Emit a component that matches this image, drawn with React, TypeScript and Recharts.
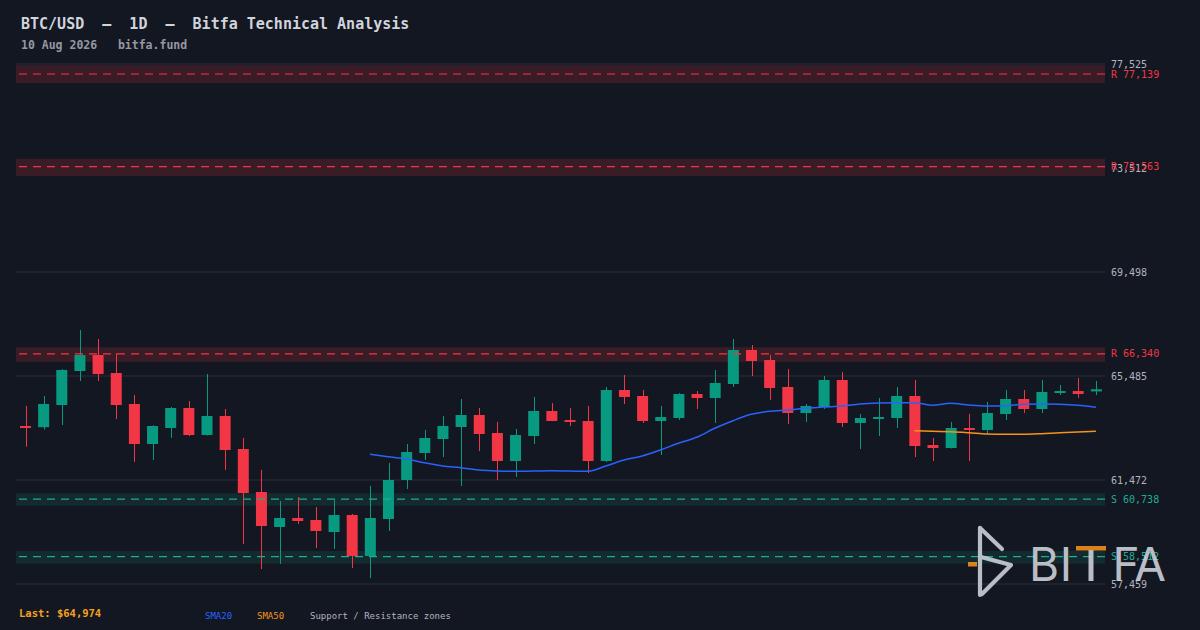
import { ComposedChart, Bar, Line, XAxis, YAxis, CartesianGrid, ReferenceArea, ReferenceLine } from 'recharts'

const days = [
  '12 Jun', '13 Jun', '14 Jun', '15 Jun', '16 Jun', '17 Jun', '18 Jun', '19 Jun', '20 Jun', '21 Jun',
  '22 Jun', '23 Jun', '24 Jun', '25 Jun', '26 Jun', '27 Jun', '28 Jun', '29 Jun', '30 Jun', '01 Jul',
  '02 Jul', '03 Jul', '04 Jul', '05 Jul', '06 Jul', '07 Jul', '08 Jul', '09 Jul', '10 Jul', '11 Jul',
  '12 Jul', '13 Jul', '14 Jul', '15 Jul', '16 Jul', '17 Jul', '18 Jul', '19 Jul', '20 Jul', '21 Jul',
  '22 Jul', '23 Jul', '24 Jul', '25 Jul', '26 Jul', '27 Jul', '28 Jul', '29 Jul', '30 Jul', '31 Jul',
  '01 Aug', '02 Aug', '03 Aug', '04 Aug', '05 Aug', '06 Aug', '07 Aug', '08 Aug', '09 Aug', '10 Aug',
]

const opens = [
  63556, 63510, 64366, 65678, 66295, 65601, 64405, 62861, 63479, 64250,
  63208, 63942, 62668, 61009, 59658, 60006, 59929, 59465, 60121, 58539,
  59967, 61472, 62514, 63054, 63517, 63980, 63286, 62205, 63170, 64135,
  63787, 63749, 62205, 64945, 64714, 63749, 63865, 64791, 64636, 65176,
  66488, 66103, 65061, 64057, 64289, 65331, 63672, 63826, 63865, 64714,
  62823, 62707, 63479, 63401, 64019, 64598, 64212, 64829, 64906, 64890,
]
const highs = [
  64327, 64713, 65755, 67260, 66913, 66361, 64752, 63580, 64289, 64520,
  65562, 64212, 63093, 61858, 60662, 60816, 60430, 60700, 60160, 61241,
  62128, 62861, 63401, 63942, 64598, 64250, 63710, 63440, 64675, 64443,
  64250, 64327, 65061, 65524, 64945, 64327, 64829, 64906, 65717, 66913,
  66681, 66296, 65755, 64405, 65485, 65640, 64019, 64636, 65061, 65331,
  63093, 63710, 64019, 64482, 64945, 64945, 65331, 65138, 65408, 65292,
]
const lows = [
  62757, 63413, 63594, 65292, 65292, 63826, 62167, 62244, 63093, 63170,
  63190, 61858, 59002, 58037, 58230, 59774, 58848, 58809, 58076, 57690,
  59504, 61125, 62244, 62359, 61241, 62591, 61472, 61588, 62861, 63740,
  63556, 61742, 62167, 64405, 63672, 62437, 63787, 64212, 63672, 65061,
  65485, 64559, 63633, 63710, 64212, 63517, 62668, 63170, 63479, 62359,
  62205, 62690, 62205, 63247, 63787, 64057, 64057, 64752, 64636, 64752,
]
const closes = [
  63498, 64405, 65717, 66295, 65562, 64366, 62861, 63556, 64250, 63208,
  63942, 62630, 60970, 59697, 60006, 59890, 59504, 60121, 58539, 60006,
  61472, 62552, 63093, 63556, 63980, 63247, 62205, 63208, 64135, 63749,
  63710, 62205, 64945, 64675, 63749, 63903, 64791, 64636, 65215, 66488,
  66064, 65022, 64057, 64327, 65331, 63672, 63865, 63903, 64714, 62784,
  62707, 63479, 63401, 64057, 64598, 64212, 64868, 64906, 64791, 64974,
]

// moving averages (first values not drawn)
const sma20 = [
  null, null, null, null, null, null, null, null, null, null,
  null, null, null, null, null, null, null, null, null, 62464,
  62371, 62282, 62140, 62012, 61947, 61858, 61819, 61808, 61819, 61830,
  61819, 61808, 62012, 62244, 62398, 62630, 62888, 63120, 63467, 63760,
  64007, 64123, 64173, 64239, 64289, 64327, 64405, 64443, 64455, 64455,
  64354, 64432, 64366, 64327, 64339, 64393, 64405, 64393, 64354, 64277,
]
const sma50 = [
  null, null, null, null, null, null, null, null, null, null,
  null, null, null, null, null, null, null, null, null, null,
  null, null, null, null, null, null, null, null, null, null,
  null, null, null, null, null, null, null, null, null, null,
  null, null, null, null, null, null, null, null, null, 63374,
  63351, 63336, 63297, 63247, 63235, 63235, 63259, 63297, 63324, 63351,
]

const priceTicks = [57459, 61472, 65485, 69498, 73512, 77525]

const resistLevels = [77139, 73563, 66340]
const resistLow = [76790, 73200, 66040]
const resistHigh = [77475, 73870, 66590]
const supportLevels = [60738, 58512]
const supportLow = [60480, 58240]
const supportHigh = [60960, 58730]

const BG = '#131722'
const GREEN = '#089981'
const RED = '#f23645'
const TEAL = '#22ab94'
const MONO = "'DejaVu Sans Mono', monospace"

const data = days.map((day, i) => ({
  day,
  open: opens[i],
  high: highs[i],
  low: lows[i],
  close: closes[i],
  sma20: sma20[i],
  sma50: sma50[i],
}))

const fmt = (v: number) => v.toLocaleString('en-US')

function Candle(props: any) {
  const { x, y, width, height, payload } = props
  if (!payload || height == null) return null
  const { open, close, high, low } = payload
  const k = height / (high - low)
  const yOf = (p: number) => y + (high - p) * k
  const color = close >= open ? GREEN : RED
  const top = yOf(Math.max(open, close))
  const bot = yOf(Math.min(open, close))
  const cx = Math.round(x + width / 2) + 0.5
  return (
    <g>
      <line x1={cx} x2={cx} y1={y} y2={y + height} stroke={color} strokeWidth={1} />
      <rect x={x} y={top} width={width} height={Math.max(bot - top, 2)} fill={color} />
    </g>
  )
}

export default function App() {
  return (
    <div style={{ position: 'absolute', left: 0, top: 0, width: 1200, height: 630, background: BG, overflow: 'hidden' }}>
      <ComposedChart width={1200} height={630} data={data} margin={{ top: 64, right: 0, bottom: 46, left: 16 }}>
        <CartesianGrid horizontal vertical={false} stroke='#2a2e39' />
        <XAxis dataKey='day' hide />
        <YAxis
          orientation='right'
          domain={[57459, 77525]}
          ticks={priceTicks}
          tickFormatter={fmt}
          axisLine={false}
          tickLine={false}
          tickSize={0}
          tickMargin={6}
          width={95}
          tick={{ fill: '#b2b5be', fontSize: 10, fontFamily: MONO }}
        />
        {resistLevels.map((v, i) => (
          <ReferenceArea key={'ra' + i} y1={resistLow[i]} y2={resistHigh[i]} fill='#3a1c27' fillOpacity={1} stroke='none' />
        ))}
        {supportLevels.map((v, i) => (
          <ReferenceArea key={'sa' + i} y1={supportLow[i]} y2={supportHigh[i]} fill='#132a2e' fillOpacity={1} stroke='none' />
        ))}
        {resistLevels.map((v, i) => (
          <ReferenceLine key={'rl' + i} y={v} stroke={RED} strokeWidth={1.2} strokeDasharray='8 6'
            label={{ value: 'R ' + fmt(v), position: 'right', offset: 6, fill: RED, fontSize: 10, fontFamily: MONO }} />
        ))}
        {supportLevels.map((v, i) => (
          <ReferenceLine key={'sl' + i} y={v} stroke={TEAL} strokeWidth={1.2} strokeDasharray='8 6'
            label={{ value: 'S ' + fmt(v), position: 'right', offset: 6, fill: TEAL, fontSize: 10, fontFamily: MONO }} />
        ))}
        <Line dataKey='sma20' type='monotone' stroke='#2962ff' strokeWidth={1.5} dot={false} isAnimationActive={false} />
        <Line dataKey='sma50' type='monotone' stroke='#f7931a' strokeWidth={1.5} dot={false} isAnimationActive={false} />
        <Bar dataKey={(d: any) => [d.low, d.high]} barSize={11} shape={<Candle />} isAnimationActive={false} />
      </ComposedChart>

      <svg width={1200} height={630} style={{ position: 'absolute', left: 0, top: 0, pointerEvents: 'none' }}>
        <text x={21} y={29} fill='#d1d4dc' fontSize={15} fontWeight='bold' fontFamily={MONO} style={{ whiteSpace: 'pre' }}>
          {'BTC/USD  —  1D  —  Bitfa Technical Analysis'}
        </text>
        <text x={21} y={49} fill='#9598a1' fontSize={11.5} fontWeight='bold' fontFamily={MONO} style={{ whiteSpace: 'pre' }}>
          {'10 Aug 2026   bitfa.fund'}
        </text>

        <text x={19} y={617} fill='#f7a21b' fontSize={10.5} fontWeight='bold' fontFamily={MONO}>
          {'Last: $' + fmt(closes[closes.length - 1])}
        </text>
        <text x={205} y={619} fill='#2962ff' fontSize={9} fontFamily={MONO}>SMA20</text>
        <text x={257} y={619} fill='#f7931a' fontSize={9} fontFamily={MONO}>SMA50</text>
        <text x={310} y={619} fill='#b2b5be' fontSize={9} fontFamily={MONO}>Support / Resistance zones</text>

        {/* watermark */}
        <g opacity={0.88}>
          <g stroke='#d1d4dc' strokeWidth={4.2} fill='none' strokeLinecap='round' strokeLinejoin='round'>
            <path d='M980 528 L980 595' />
            <path d='M980 528 L1002 549' />
            <path d='M981 557 L1011 565 L982 594' />
          </g>
          <rect x={968} y={562} width={9} height={4.5} fill='#f7931a' />
          <g fill='#d1d4dc' fontFamily="Inter, 'Noto Sans', sans-serif" fontSize={46} textAnchor='middle'>
            <text x={1044} y={581}>B</text>
            <text x={1066} y={581}>I</text>
            <text x={1126} y={581}>F</text>
            <text x={1150} y={581}>A</text>
          </g>
          <rect x={1076} y={546} width={30} height={4.5} fill='#f7931a' />
          <rect x={1088.5} y={550} width={5} height={31} fill='#d1d4dc' />
        </g>
      </svg>
    </div>
  )
}
